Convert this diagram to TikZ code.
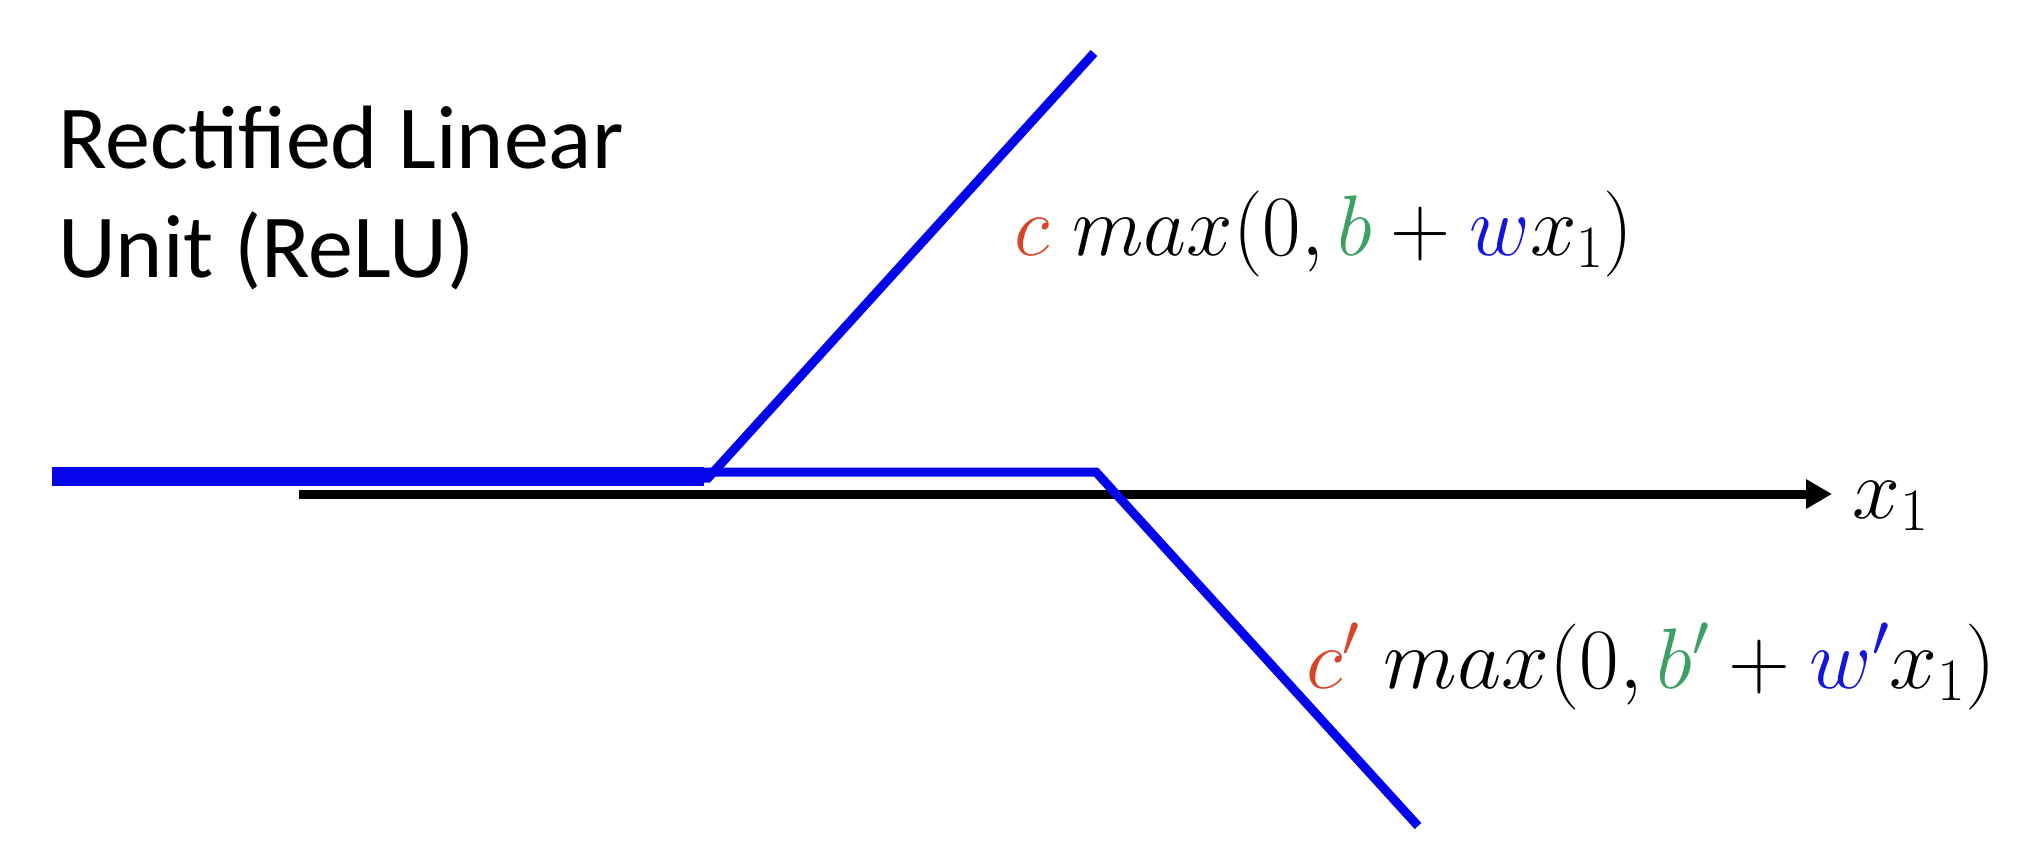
\RequirePackage{fix-cm}
\documentclass[tikz,border=0pt]{standalone}
\usepackage{fontspec}
\setmainfont{Carlito}
\usetikzlibrary{arrows.meta}
\definecolor{reluBlue}{RGB}{5,5,235}
\definecolor{cRed}{RGB}{215,68,40}
\definecolor{bGreen}{RGB}{60,160,100}
\definecolor{wBlue}{RGB}{20,20,220}
\begin{document}
\begin{tikzpicture}[x=1pt,y=-1pt,
  curve/.style={draw=reluBlue, line width=9pt, line join=miter},
  thickbar/.style={draw=reluBlue, line width=19pt},
  axisline/.style={draw=black, line width=9pt, -{Triangle[length=26pt,width=28pt]}},
  titletext/.style={anchor=base west, inner sep=0pt, font=\fontsize{90}{108}\selectfont},
  formula/.style={anchor=base west, inner sep=0pt, font=\fontsize{86}{100}\selectfont}]
\useasboundingbox (0,0) rectangle (2038,846);
% coordinates
\coordinate (barL) at (52,476.5);
\coordinate (barR) at (704,476.5);
\coordinate (k1) at (708,478);
\coordinate (t1) at (1094,53);
\coordinate (s2) at (704,472);
\coordinate (k2) at (1096,472);
\coordinate (e2) at (1418,826);
\coordinate (axL) at (299,494);
\coordinate (axR) at (1832,494);
% axis
\draw[axisline] (axL) -- (axR);
% ReLU curves
\draw[thickbar] (barL) -- (barR);
\draw[curve] (barL |- k1) -- (k1) -- (t1);
\draw[curve] (s2) -- (k2) -- (e2);
% labels
\node[titletext] (t1a) at (58,168) {Rectified Linear};
\node[titletext] (t1b) at (58,277) {Unit (ReLU)};
\node[formula] (f1) at (1014,255) {\scalebox{0.97}[1]{$\color{cRed}c\;\color{black}max(0,\color{bGreen}b\color{black}+\color{wBlue}w\color{black}x_1)$}};
\node[formula] (f2) at (1306,688) {$\color{cRed}c'\;\color{black}max(0,\color{bGreen}b'\color{black}+\color{wBlue}w'\color{black}x_1)$};
\node[formula] (xl) at (1852,518) {$x_1$};
\end{tikzpicture}
\end{document}
